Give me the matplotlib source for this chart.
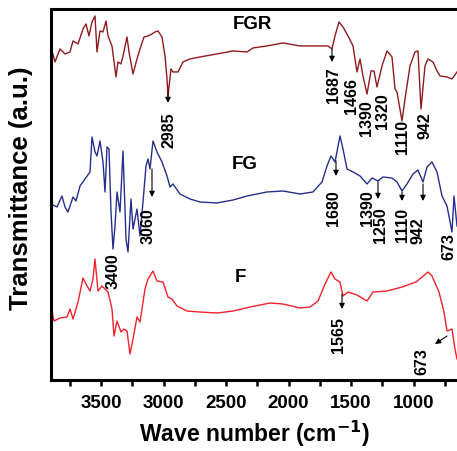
import matplotlib
matplotlib.use("Agg")
import matplotlib.pyplot as plt
from matplotlib.ticker import MultipleLocator

plt.rcParams['font.family'] = ['Liberation Sans', 'DejaVu Sans']
plt.rcParams['font.weight'] = 'bold'
plt.rcParams['mathtext.default'] = 'bf'

# spectra (wave number, transmittance in arbitrary units)
fgr_wn = [3892, 3868, 3828, 3788, 3748, 3724, 3684, 3644, 3620, 3596, 3572, 3548, 3532, 3508,
          3484, 3460, 3444, 3412, 3380, 3364, 3340, 3324, 3292, 3276, 3244, 3212, 3188, 3156,
          3124, 3092, 3068, 3044, 3012, 2988, 2972, 2964, 2940, 2924, 2884, 2844, 2788, 2708,
          2572, 2444, 2332, 2284, 2172, 2044, 1908, 1772, 1684, 1652, 1628, 1596, 1564, 1524,
          1484, 1452, 1428, 1404, 1372, 1340, 1316, 1292, 1252, 1212, 1172, 1148, 1132, 1092,
          1068, 1028, 988, 964, 940, 908, 884, 844, 812, 788, 732, 692, 652]
fgr_t = [400, 389, 402, 397, 399, 410, 407, 422, 427, 415, 429, 435, 399, 420,
         419, 430, 415, 405, 374, 389, 387, 395, 414, 399, 377, 392, 402, 414,
         415, 417, 419, 420, 414, 395, 372, 355, 382, 379, 379, 389, 392, 394,
         397, 400, 399, 403, 405, 408, 405, 405, 405, 402, 415, 429, 424, 415,
         405, 379, 392, 375, 357, 380, 380, 364, 385, 400, 394, 362, 359, 330,
         352, 385, 399, 400, 342, 385, 392, 389, 380, 375, 374, 372, 379]

fg_wn = [3884, 3852, 3812, 3788, 3764, 3724, 3700, 3668, 3628, 3588, 3572, 3548, 3532, 3508,
         3484, 3468, 3452, 3436, 3420, 3404, 3388, 3372, 3348, 3324, 3300, 3284, 3260, 3244,
         3212, 3188, 3164, 3140, 3124, 3108, 3084, 3052, 3012, 2972, 2948, 2924, 2868, 2788,
         2708, 2572, 2444, 2332, 2172, 2044, 1908, 1804, 1732, 1692, 1660, 1628, 1588, 1564,
         1532, 1484, 1428, 1372, 1332, 1284, 1244, 1172, 1132, 1092, 1052, 1004, 964, 924,
         892, 852, 812, 772, 732, 692, 676, 652]
fg_t = [246, 244, 255, 244, 239, 254, 250, 265, 272, 279, 314, 299, 295, 310,
        289, 259, 304, 302, 239, 202, 225, 259, 239, 300, 212, 199, 252, 222,
        242, 215, 249, 285, 292, 282, 310, 299, 289, 275, 264, 267, 257, 252,
        249, 248, 251, 255, 259, 260, 257, 259, 269, 285, 295, 289, 315, 302,
        282, 279, 275, 267, 273, 270, 274, 273, 269, 260, 267, 277, 281, 269,
        284, 289, 279, 255, 245, 219, 255, 225]

f_wn = [3892, 3876, 3828, 3772, 3748, 3724, 3684, 3644, 3620, 3588, 3564, 3548, 3524, 3492,
        3468, 3444, 3412, 3396, 3372, 3340, 3316, 3292, 3268, 3244, 3212, 3188, 3148, 3124,
        3084, 3052, 3004, 2964, 2932, 2892, 2812, 2708, 2572, 2444, 2308, 2148, 2044, 1908,
        1828, 1764, 1708, 1660, 1628, 1588, 1564, 1524, 1452, 1372, 1324, 1212, 1092, 980,
        884, 852, 796, 756, 732, 692, 668, 652]
f_t = [140, 130, 133, 134, 142, 132, 149, 173, 167, 160, 172, 192, 160, 165,
       162, 159, 142, 115, 130, 119, 122, 120, 97, 112, 134, 129, 162, 172,
       180, 170, 169, 154, 152, 145, 140, 139, 138, 140, 144, 148, 147, 143,
       144, 150, 167, 179, 172, 169, 155, 159, 156, 150, 159, 160, 164, 169,
       179, 175, 159, 139, 120, 122, 102, 92]

# peak labels: text, x, top of text, arrow (x, y from, y to) or None
fgr_peaks = [("2985", 2956, 340, (2964, 359, 348)),
             ("1687", 1644, 385, (1652, 402, 389)),
             ("1466", 1500, 374, None),
             ("1390", 1376, 352, None),
             ("1320", 1252, 359, None),
             ("1110", 1092, 332, None),
             ("942", 908, 340, None)]
fg_peaks = [("3400", 3404, 199, None),
            ("3060", 3124, 244, (3092, 282, 254)),
            ("1680", 1644, 262, (1620, 290, 275)),
            ("1390", 1372, 262, None),
            ("1250", 1264, 245, (1284, 269, 252)),
            ("1110", 1092, 244, (1092, 259, 250)),
            ("942", 968, 235, (924, 267, 250)),
            ("673", 716, 219, None)]
f_peaks = [("1565", 1604, 135, (1572, 157, 142)),
           ("673", 932, 104, None)]

fig = plt.figure(figsize=(4.57, 4.52), dpi=100)
ax = fig.add_axes([0.1116, 0.157, 0.8884, 0.821])

ax.plot(fgr_wn, fgr_t, color='#8e1b1f', lw=1.0)
ax.plot(fg_wn, fg_t, color='#26308c', lw=1.0)
ax.plot(f_wn, f_t, color='#f0222a', lw=1.0)

ax.text(2292, 427, "FGR", ha='center', va='center', fontsize=13.5)
ax.text(2348, 287, "FG", ha='center', va='center', fontsize=13.5)
ax.text(2388, 175, "F", ha='center', va='center', fontsize=13.5)

for peaks in (fgr_peaks, fg_peaks, f_peaks):
    for lab, x, ytop, arr in peaks:
        ax.text(x, ytop, lab, rotation=90, ha='center', va='top', fontsize=11.5)
        if arr is not None:
            ax.annotate("", xy=(arr[0], arr[2]), xytext=(arr[0], arr[1]),
                        arrowprops=dict(arrowstyle='-|>', color='black', lw=0.8,
                                        mutation_scale=8, shrinkA=0, shrinkB=0))

# diagonal arrow to the 673 band of F
ax.annotate("", xy=(828, 107), xytext=(732, 115),
            arrowprops=dict(arrowstyle='-|>', color='black', lw=0.8,
                            mutation_scale=8, shrinkA=0, shrinkB=0))

ax.set_xlim(3900, 652)
ax.set_ylim(71, 442)
ax.xaxis.set_major_locator(MultipleLocator(500))
ax.xaxis.set_minor_locator(MultipleLocator(250))
ax.tick_params(axis='x', which='both', direction='out', length=4, width=1.8,
               labelsize=13.5, pad=6)
ax.tick_params(axis='y', left=False, labelleft=False)
ax.spines['right'].set_visible(False)
for s in ('left', 'top', 'bottom'):
    ax.spines[s].set_linewidth(2.2)

ax.set_xlabel("Wave number (cm$^{-1}$)", fontsize=16.5, fontweight='bold', labelpad=5)
ax.set_ylabel("Transmittance (a.u.)", fontsize=18.5, fontweight='bold')
ax.yaxis.set_label_coords(-0.045, 0.52)

plt.savefig("out.png", dpi=100)
plt.close()
